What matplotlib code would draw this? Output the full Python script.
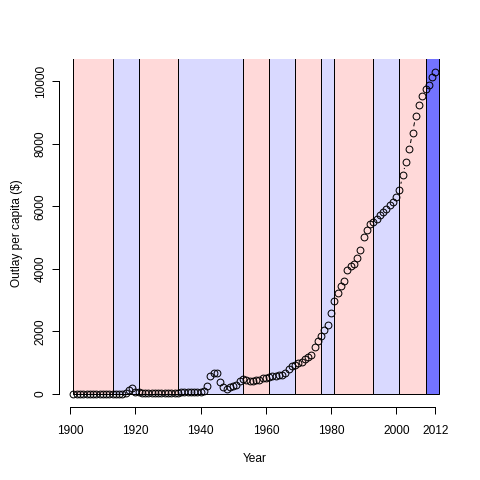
import numpy as np
import matplotlib
matplotlib.use("Agg")
import matplotlib.pyplot as plt
from matplotlib.patches import Rectangle

years = list(range(1901, 2013))
outlay = [
    6, 6, 6, 6, 7, 7, 7, 7, 7, 7, 7, 7, 7, 7, 7, 7,          # 1901-1916
    20, 125, 185, 60,                                          # 1917-1920
    47, 33, 29, 26, 25, 25, 25, 25, 26, 27,                    # 1921-1930
    29, 37, 36, 51, 51, 65, 59, 52, 68, 72,                    # 1931-1940
    102, 260, 570, 660, 660, 390, 220, 170, 230, 260,          # 1941-1950
    300, 420, 470, 440, 415, 420, 445, 460, 505, 510,          # 1951-1960
    535, 565, 580, 610, 620, 680, 790, 880, 920, 980,          # 1961-1970
    1035, 1110, 1170, 1250, 1510, 1700, 1860, 2040, 2220, 2590,  # 1971-1980
    2960, 3220, 3450, 3620, 3970, 4100, 4150, 4350, 4610, 5010,  # 1981-1990
    5250, 5420, 5510, 5610, 5710, 5820, 5930, 6040, 6140, 6300,  # 1991-2000
    6520, 6990, 7430, 7820, 8355, 8890, 9250, 9520, 9740, 9890,  # 2001-2010
    10140, 10300,                                                # 2011-2012
]

term_start = [1901, 1913, 1921, 1933, 1953, 1961, 1969, 1977, 1981, 1993, 2001, 2009]
term_end = [1913, 1921, 1933, 1953, 1961, 1969, 1977, 1981, 1993, 2001, 2009, 2013]
term_party = ["R", "D", "R", "D", "R", "D", "R", "D", "R", "D", "R", "current"]
party_color = {"R": "#FFD9D9", "D": "#D9D9FF", "current": "#7373FF"}

xticks = [1900, 1920, 1940, 1960, 1980, 2000, 2012]
yticks = [0, 2000, 4000, 6000, 8000, 10000]

plt.rcParams["font.family"] = ["Liberation Sans", "DejaVu Sans"]
FS = 8.6
LW = 0.72

fig = plt.figure(figsize=(4.8, 4.8), dpi=100)
W = H = 480.0
left, right, top, bottom = 59.0, 449.8, 59.0, 406.6
ax = fig.add_axes([left / W, 1 - bottom / H, (right - left) / W, (bottom - top) / H])

x = np.array(years, dtype=float)
y = np.array(outlay, dtype=float)
xr = x.max() - x.min()
yr = y.max() - y.min()
ax.set_xlim(x.min() - 0.04 * xr, x.max() + 0.04 * xr)
ax.set_ylim(y.min() - 0.04 * yr, y.max() + 0.04 * yr)

ytop = ax.get_ylim()[1] * 3
for s, e, p in zip(term_start, term_end, term_party):
    ax.add_patch(Rectangle((s, 0), e - s, ytop, facecolor=party_color[p],
                           edgecolor="black", linewidth=LW, zorder=1))

# type="b" style connecting segments with gaps around points
fig.canvas.draw()
pts = ax.transData.transform(np.column_stack([x, y]))
gap = 7.0
inv = ax.transData.inverted()
for i in range(len(pts) - 1):
    p0, p1 = pts[i], pts[i + 1]
    d = p1 - p0
    L = np.hypot(*d)
    if L > 2 * gap:
        u = d / L
        a = inv.transform(p0 + u * gap)
        b = inv.transform(p1 - u * gap)
        ax.plot([a[0], b[0]], [a[1], b[1]], color="black", linewidth=LW, zorder=2)

ax.plot(x, y, linestyle="none", marker="o", markersize=4.9, markerfacecolor="none",
        markeredgecolor="black", markeredgewidth=LW, zorder=3)

for sp in ["top", "right"]:
    ax.spines[sp].set_visible(False)
ax.spines["left"].set_bounds(yticks[0], yticks[-1])
ax.spines["bottom"].set_bounds(xticks[0], xticks[-1])
ax.spines["left"].set_linewidth(LW)
ax.spines["bottom"].set_linewidth(LW)

ax.set_xticks(xticks)
ax.set_xticklabels([str(t) for t in xticks])
ax.set_yticks(yticks)
ax.set_yticklabels([str(t) for t in yticks])
ax.tick_params(axis="both", length=5.2, width=LW, labelsize=FS, direction="out")
ax.tick_params(axis="x", pad=8.0)
ax.tick_params(axis="y", pad=3.6, labelrotation=90)
for lab in ax.get_yticklabels():
    lab.set_va("center")

ax.set_xlabel("Year", fontsize=FS)
ax.xaxis.set_label_coords(0.5, -(459 - bottom) / (bottom - top))
ax.xaxis.label.set_va("center")
ax.set_ylabel("Outlay per capita ($)", fontsize=FS)
ax.yaxis.set_label_coords(-(left - 17) / (right - left), 0.5)
ax.yaxis.label.set_va("center")

fig.savefig("out.png", dpi=100)
